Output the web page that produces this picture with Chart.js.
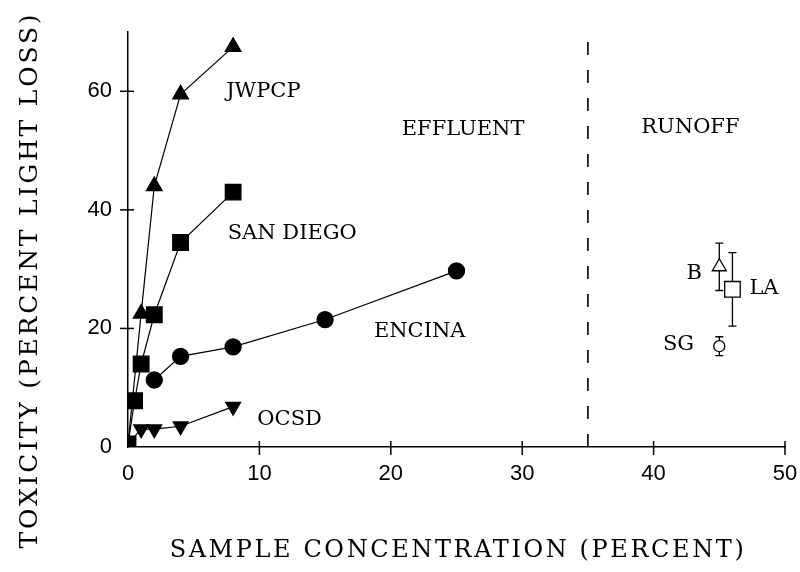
<!DOCTYPE html>
<html>
<head>
<meta charset="utf-8">
<script src="https://cdn.jsdelivr.net/npm/chart.js@4"></script>
<style>
  body { margin: 0; background: #fff; }
</style>
</head>
<body>
<canvas id="toxChart" width="800" height="572"></canvas>
<script>
// effluent series (x = sample concentration %, y = % light loss)
const jwpcpX = [0, 1, 2, 4, 8];
const jwpcpY = [0.5, 22.5, 44, 59.5, 67.5];
const sanDiegoX = [0, 0.5, 1, 2, 4, 8];
const sanDiegoY = [0.5, 7.8, 14, 22.3, 34.5, 43];
const encinaX = [2, 4, 8, 15, 25];
const encinaY = [11.3, 15.3, 16.9, 21.5, 29.7];
const ocsdX = [0, 1, 2, 4, 8];
const ocsdY = [0.5, 3, 3, 3.5, 6.8];

// runoff samples with error bars
const runoffNames = ["B", "LA", "SG"];
const runoffX = [45, 46, 45];
const runoffY = [30.4, 26.6, 17];
const runoffErr = [4, 6.2, 1.6];

const xTicks = [0, 10, 20, 30, 40, 50];
const yTicks = [0, 20, 40, 60];
const boundaryX = 35;

const serif = "'DejaVu Serif', serif";
const sans = "'Liberation Sans', Arial, sans-serif";

const zip = (xs, ys) => xs.map((x, i) => ({x: x, y: ys[i]}));

// label placement, in data units
const notes = [
    {text: "JWPCP", x: 10.3, y: 59.9},
    {text: "SAN DIEGO", x: 12.5, y: 36},
    {text: "ENCINA", x: 22.2, y: 19.4},
    {text: "OCSD", x: 12.3, y: 4.6},
    {text: "EFFLUENT", x: 25.5, y: 53.5},
    {text: "RUNOFF", x: 42.8, y: 53.8},
    {text: runoffNames[0], x: 43.1, y: 29.3},
    {text: runoffNames[1], x: 48.4, y: 26.8},
    {text: runoffNames[2], x: 41.9, y: 17.2}
];

const extras = {
    id: "extras",
    beforeDraw(chart) {
        const ctx = chart.ctx;
        ctx.save();
        ctx.fillStyle = "#fff";
        ctx.fillRect(0, 0, chart.width, chart.height);
        ctx.restore();
    },
    beforeDatasetsDraw(chart) {
        const {ctx, scales: {x, y}} = chart;
        ctx.save();
        ctx.strokeStyle = "#000";
        // effluent / runoff divider
        ctx.lineWidth = 1.6;
        ctx.setLineDash([13, 15]);
        ctx.beginPath();
        ctx.moveTo(x.getPixelForValue(boundaryX), y.getPixelForValue(0));
        ctx.lineTo(x.getPixelForValue(boundaryX), y.getPixelForValue(69));
        ctx.stroke();
        ctx.setLineDash([]);
        // error bars
        ctx.lineWidth = 1.3;
        runoffX.forEach((vx, i) => {
            const px = x.getPixelForValue(vx);
            const top = y.getPixelForValue(runoffY[i] + runoffErr[i]);
            const bot = y.getPixelForValue(runoffY[i] - runoffErr[i]);
            ctx.beginPath();
            ctx.moveTo(px, top); ctx.lineTo(px, bot);
            ctx.moveTo(px - 4, top); ctx.lineTo(px + 4, top);
            ctx.moveTo(px - 4, bot); ctx.lineTo(px + 4, bot);
            ctx.stroke();
        });
        // tick marks crossing the axes
        ctx.lineWidth = 1.5;
        const ay = y.getPixelForValue(0), ax = x.getPixelForValue(0);
        xTicks.slice(1).forEach(v => {
            const px = x.getPixelForValue(v);
            ctx.beginPath(); ctx.moveTo(px, ay - 6); ctx.lineTo(px, ay + 8); ctx.stroke();
        });
        yTicks.slice(1).forEach(v => {
            const py = y.getPixelForValue(v);
            ctx.beginPath(); ctx.moveTo(ax - 8, py); ctx.lineTo(ax + 6, py); ctx.stroke();
        });
        ctx.restore();
    },
    afterDraw(chart) {
        const {ctx, scales: {x, y}} = chart;
        ctx.save();
        ctx.fillStyle = "#000";
        ctx.textAlign = "center";
        ctx.textBaseline = "middle";
        ctx.font = "21px " + serif;
        notes.forEach(n => ctx.fillText(n.text, x.getPixelForValue(n.x), y.getPixelForValue(n.y)));
        // axis titles (wide-set like the original typeface)
        ctx.font = "24px " + serif;
        ctx.letterSpacing = "2.6px";
        ctx.fillText("SAMPLE CONCENTRATION (PERCENT)", 458, 551);
        ctx.font = "25px " + serif;
        ctx.letterSpacing = "2.8px";
        ctx.translate(30, 280);
        ctx.rotate(-Math.PI / 2);
        ctx.fillText("TOXICITY (PERCENT LIGHT LOSS)", 0, 0);
        ctx.restore();
    }
};

const ctx = document.getElementById("toxChart").getContext("2d");
const toxChart = new Chart(ctx, {
    type: "scatter",
    data: {
        datasets: [
            {label: "JWPCP", data: zip(jwpcpX, jwpcpY), pointStyle: "triangle", pointRadius: 9},
            {label: "SAN DIEGO", data: zip(sanDiegoX, sanDiegoY), pointStyle: "rect", pointRadius: 11},
            {label: "ENCINA", data: zip(encinaX, encinaY), pointStyle: "circle", pointRadius: 8},
            {label: "OCSD", data: zip(ocsdX, ocsdY), pointStyle: "triangle", pointRotation: 180, pointRadius: 8.5},
            {label: "B", data: zip(runoffX.slice(0, 1), runoffY.slice(0, 1)), pointStyle: "triangle",
             pointRadius: 8, backgroundColor: "#fff", showLine: false},
            {label: "LA", data: zip(runoffX.slice(1, 2), runoffY.slice(1, 2)), pointStyle: "rect",
             pointRadius: 11, backgroundColor: "#fff", showLine: false},
            {label: "SG", data: zip(runoffX.slice(2), runoffY.slice(2)), pointStyle: "circle",
             pointRadius: 5.5, backgroundColor: "#fff", showLine: false}
        ].map(d => Object.assign({
            showLine: true,
            borderColor: "#000",
            backgroundColor: "#000",
            borderWidth: 1.2,
            pointBorderWidth: 1.3
        }, d))
    },
    plugins: [extras],
    options: {
        responsive: false,
        animation: false,
        layout: {padding: {top: 32, right: 0, left: 0, bottom: 0}},
        plugins: {legend: {display: false}, tooltip: {enabled: false}},
        scales: {
            x: {
                type: "linear",
                min: 0,
                max: 50,
                afterFit: s => { s.height = 125; s.paddingRight = 15; },
                afterBuildTicks: s => { s.ticks = xTicks.map(v => ({value: v})); },
                grid: {display: false, drawTicks: false},
                border: {display: true, color: "#000", width: 1.5},
                ticks: {color: "#000", font: {family: sans, size: 22}, padding: 14, maxRotation: 0}
            },
            y: {
                type: "linear",
                min: 0,
                max: 70,
                afterFit: s => { s.width = 128; },
                afterBuildTicks: s => { s.ticks = yTicks.map(v => ({value: v})); },
                grid: {display: false, drawTicks: false},
                border: {display: true, color: "#000", width: 1.5},
                ticks: {color: "#000", font: {family: sans, size: 22}, padding: 16}
            }
        }
    }
});
</script>
</body>
</html>
